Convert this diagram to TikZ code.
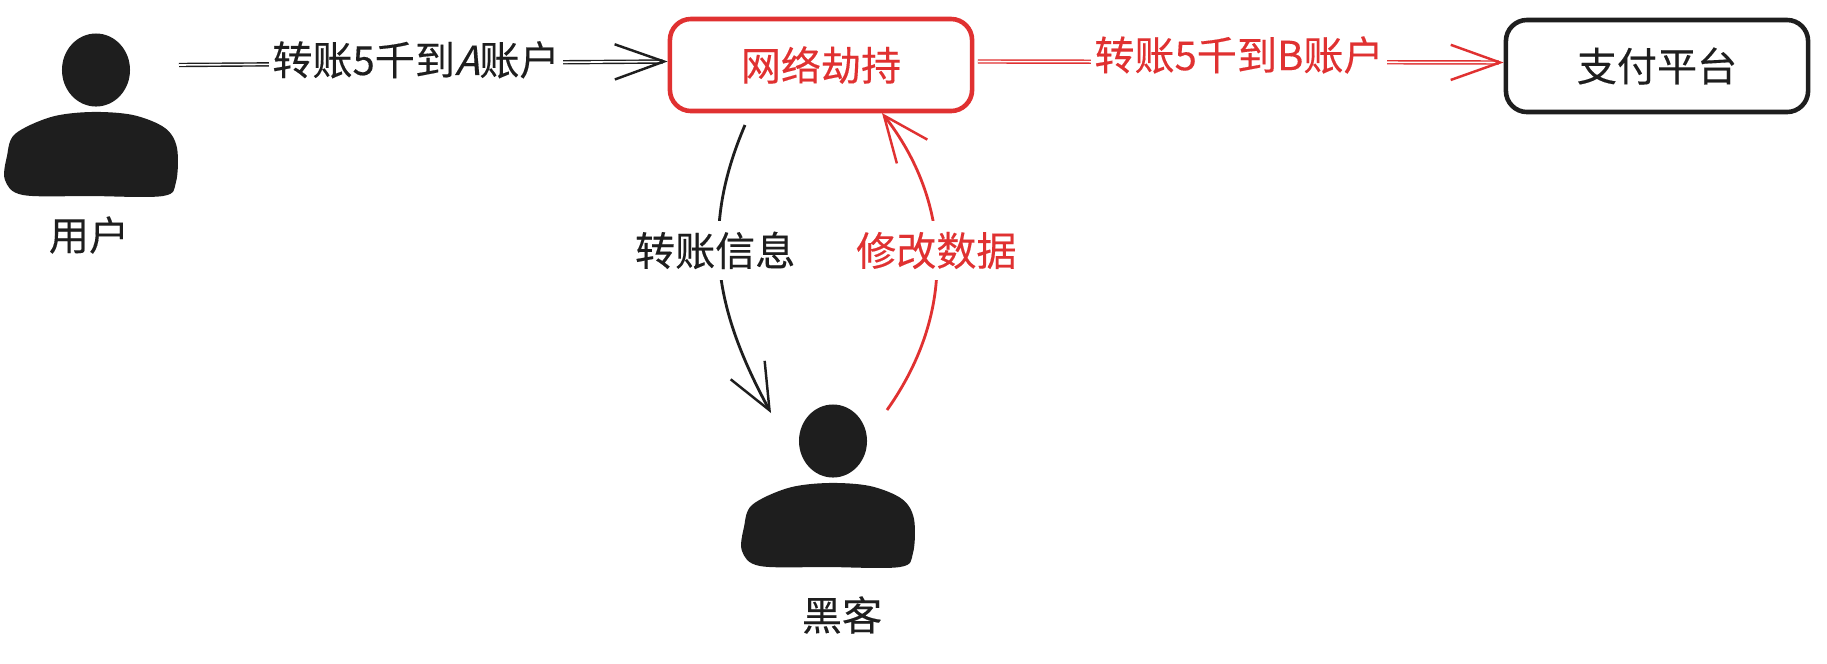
\documentclass[tikz,border=0pt]{standalone}
\usepackage{fontspec}
\setmainfont[FakeBold=0.3]{Noto Sans CJK SC}
\newfontfamily\slantcjk[FakeSlant=0.25,FakeBold=0.3]{Noto Sans CJK SC}
\usetikzlibrary{positioning}
\usetikzlibrary{arrows.meta}
\usetikzlibrary{shapes.geometric}
\definecolor{inkblack}{HTML}{1E1E1E}
\definecolor{inkred}{HTML}{E03131}
\tikzset{
  txt/.style={font=\fontsize{11.4}{13}\selectfont, inner sep=0pt},
  linelabel/.style={txt, fill=white, inner xsep=1pt, inner ysep=3pt},
  sysbox/.style={draw, rounded corners=6pt, minimum width=3.02cm, minimum height=0.92cm, txt},
  flow/.style={line width=0.4pt, double distance=0.45pt, -{Straight Barb[length=14pt,width=10pt,line width=0.7pt]}},
  curveflow/.style={line width=0.8pt, -{Straight Barb[length=13pt,width=11pt,line width=0.7pt]}},
  person/.pic={
    \node[ellipse, fill=inkblack, minimum width=0.68cm, minimum height=0.73cm, inner sep=0pt] (-head) at (5,-84) {};
    \fill[inkblack] plot[smooth cycle, tension=0.55] coordinates {(-86,26) (-68,41) (0,42) (72,42) (85,28) (86,-6) (74,-26) (42,-39) (0,-42) (-40,-37) (-76,-20) (-84,2)};
  },
}
\begin{document}
\begin{tikzpicture}[x=0.01cm, y=-0.01cm, inkblack]
  \useasboundingbox (0,0) rectangle (1827,663);
  \pic (user) at (91,154) {person};
  \pic (hacker) at (828,525) {person};
  \node[txt] (userlabel) at (89,235) {用户};
  \node[txt] (hackerlabel) at (842,615) {黑客};
  \node[sysbox, draw=inkred, text=inkred, line width=1.3pt] (hijack) at (821,65) {网络劫持};
  \node[sysbox, line width=1.3pt] (pay) at (1657,66) {支付平台};
  \coordinate (userout) at (179,65);
  \coordinate (infostart) at (745,125);
  \coordinate (infoend) at (771,413);
  \coordinate (editstart) at (887,410);
  \coordinate (editend) at (882,113);
  \draw[flow] (userout) -- ([yshift=1pt]hijack.west) node[pos=0.485, linelabel, yshift=1pt] {转账5千到{\slantcjk A}账户};
  \draw[flow, inkred, shorten <=1pt] ([yshift=1pt]hijack.east) -- ([yshift=1pt]pay.west) node[midway, linelabel, yshift=2pt] {转账5千到B账户};
  \draw[curveflow] (infostart) .. controls (700,230) and (715,310) .. (infoend) node[pos=0.43, linelabel, xshift=-1pt] {转账信息};
  \draw[curveflow, inkred] (editstart) .. controls (958,310) and (950,200) .. (editend) node[pos=0.52, linelabel] {修改数据};
\end{tikzpicture}
\end{document}
